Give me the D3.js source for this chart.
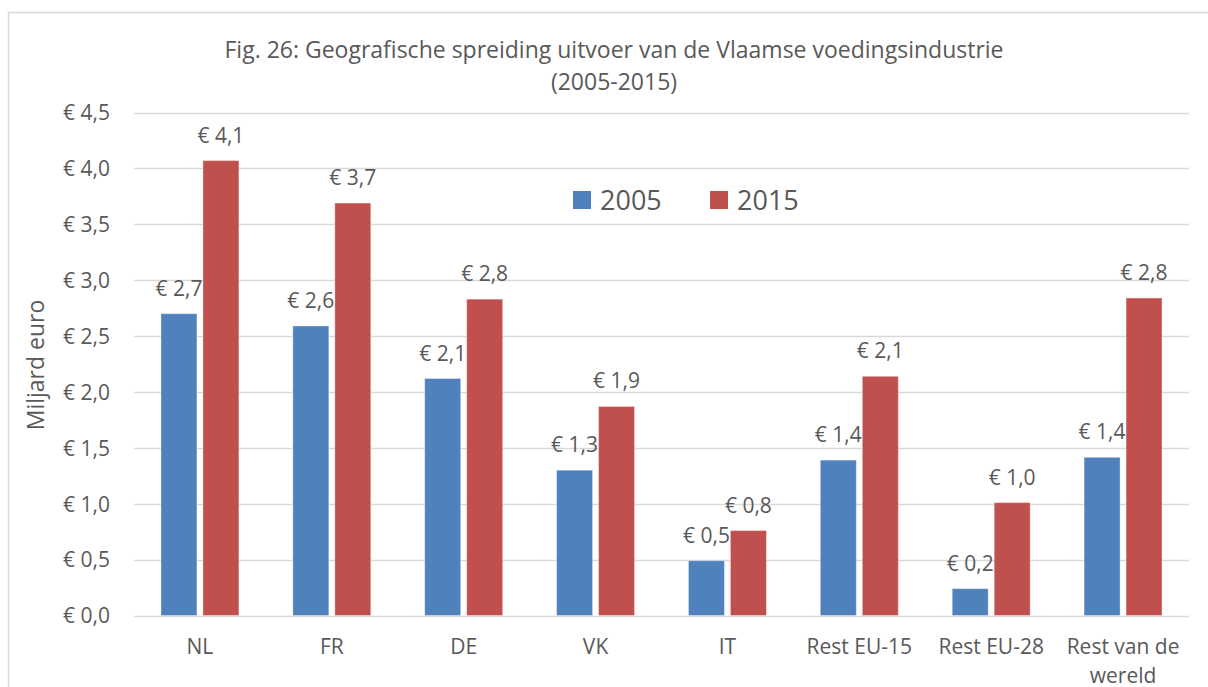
<!DOCTYPE html>
<html><head><meta charset="utf-8">
<script src="https://cdn.jsdelivr.net/npm/d3@7"></script>
<style>body{margin:0;background:#fff;}svg{display:block;}text{font-family:"Open Sans","Noto Sans",sans-serif;fill:#595959;}</style>
</head><body>
<svg id="c" width="1208" height="687"></svg>
<script>
const categories = ["NL","FR","DE","VK","IT","Rest EU-15","Rest EU-28","Rest van de wereld"];
const series = ["2005","2015"];
const values2005 = [2.70, 2.59, 2.12, 1.30, 0.49, 1.39, 0.24, 1.415];
const values2015 = [4.07, 3.69, 2.83, 1.87, 0.76, 2.14, 1.01, 2.84];
const yTicks = [0,0.5,1,1.5,2,2.5,3,3.5,4,4.5];
const colors = ["#4F81BD","#C0504D"];
const titleLines = ["Fig. 26: Geografische spreiding uitvoer van de Vlaamse voedingsindustrie","(2005-2015)"];

const svg = d3.select("#c");
svg.append("rect").attr("x",8.5).attr("y",12.5).attr("width",1300).attr("height",700)
  .attr("fill","none").attr("stroke","#D9D9D9").attr("stroke-width",1.5);

const pLeft=134, pRight=1189, pTop=112.5, pBottom=615.5;
const y = d3.scaleLinear().domain([0,4.5]).range([pBottom, pTop]);
const x0 = d3.scaleBand().domain(categories).range([pLeft,pRight]);
const bw = x0.bandwidth();
const x1 = d3.scaleBand().domain(series).range([bw*0.2045, bw*0.7955]).paddingInner(0.143);
const fmt = v => "€ " + d3.format(".1f")(v).replace(".",",");

// gridlines
svg.append("g").selectAll("line").data(yTicks).join("line")
  .attr("x1",pLeft).attr("x2",pRight).attr("y1",d=>Math.round(y(d))+0.5).attr("y2",d=>Math.round(y(d))+0.5)
  .attr("stroke","#D9D9D9").attr("stroke-width",1.3);

// y axis labels
const yAxis = d3.axisLeft(y).tickValues(yTicks).tickSize(0).tickPadding(0).tickFormat(fmt);
const gy = svg.append("g").attr("transform",`translate(110,0)`).call(yAxis);
gy.select(".domain").remove();
gy.selectAll("text").style("font-size","21px").style("font-family",'"Open Sans","Noto Sans",sans-serif').attr("fill","#595959").attr("dy","0.35em");

// x axis labels
const gx = svg.append("g").attr("transform",`translate(0,${pBottom})`)
  .call(d3.axisBottom(x0).tickSize(0).tickPadding(0).tickFormat(""));
gx.select(".domain").remove();
const xl = svg.append("g").selectAll("text").data(categories).join("text")
  .attr("x",d=>x0(d)+bw/2).attr("y",pBottom+38).attr("text-anchor","middle").style("font-size","21px");
xl.each(function(d){
  const t=d3.select(this);
  const parts = d==="Rest van de wereld" ? ["Rest van de","wereld"] : [d];
  parts.forEach((p,i)=>t.append("tspan").attr("x",x0(d)+bw/2).attr("dy",i?29:0).text(p));
});

// bars
const data = categories.map((c,i)=>({c, vals:[values2005[i], values2015[i]]}));
const groups = svg.append("g").selectAll("g").data(data).join("g")
  .attr("transform",d=>`translate(${x0(d.c)},0)`);
groups.selectAll("rect").data(d=>d.vals.map((v,j)=>({s:series[j],v,j}))).join("rect")
  .attr("x",d=>x1(d.s)).attr("width",x1.bandwidth())
  .attr("y",d=>y(d.v)).attr("height",d=>pBottom-y(d.v))
  .attr("fill",d=>colors[d.j]).attr("stroke","rgba(255,255,255,0.35)").attr("stroke-width",1);
groups.selectAll("text").data(d=>d.vals.map((v,j)=>({s:series[j],v,j}))).join("text")
  .attr("x",d=>x1(d.s)+x1.bandwidth()/2).attr("y",d=>y(d.v)-18)
  .attr("text-anchor","middle").style("font-size","21px").text(d=>fmt(d.v));

// title
svg.append("g").selectAll("text").data(titleLines).join("text")
  .attr("x",614).attr("y",(d,i)=>58+i*32).attr("text-anchor","middle")
  .style("font-size","23px").text(d=>d);

// y title
svg.append("text").attr("transform","translate(44,365) rotate(-90)").attr("text-anchor","middle")
  .style("font-size","23px").text("Miljard euro");

// legend
const leg = svg.append("g");
const legX=[573,710];
series.forEach((s,i)=>{
  leg.append("rect").attr("x",legX[i]).attr("y",191).attr("width",18).attr("height",18).attr("fill",colors[i]);
  leg.append("text").attr("x",legX[i]+27).attr("y",210).style("font-size","27px").text(s);
});
</script>
</body></html>
